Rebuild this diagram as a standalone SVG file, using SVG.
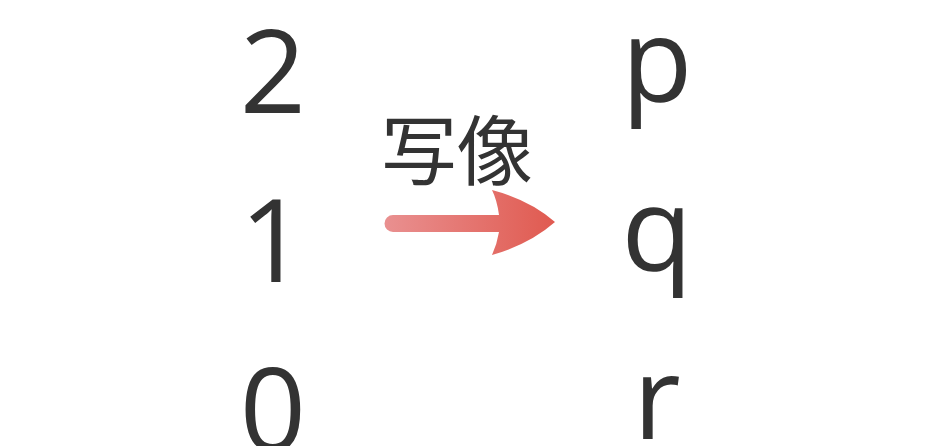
<svg xmlns="http://www.w3.org/2000/svg" width="940" height="446" viewBox="0 0 940 446">
  <defs>
    <style>
      .glyph { font-family: "Open Sans", "Noto Sans", sans-serif; font-size: 116px; fill: #333333; text-anchor: middle; }
      .label { font-family: "Noto Sans CJK JP", "Noto Sans", sans-serif; font-size: 76px; fill: #333333; text-anchor: middle; }
    </style>
    <linearGradient id="arrowGrad" x1="385" y1="0" x2="555" y2="0" gradientUnits="userSpaceOnUse">
      <stop offset="0" stop-color="#e99090"/>
      <stop offset="1" stop-color="#e05a50"/>
    </linearGradient>
  </defs>
  <rect width="940" height="446" fill="#ffffff"/>
  <g id="left-2"><text class="glyph" x="273" y="113">2</text></g>
  <g id="left-1"><text class="glyph" x="273" y="282">1</text></g>
  <g id="left-0"><text class="glyph" x="273" y="451">0</text></g>
  <g id="right-p"><text class="glyph" x="657" y="101">p</text></g>
  <g id="right-q"><text class="glyph" x="657" y="270">q</text></g>
  <g id="right-r"><text class="glyph" x="657" y="439">r</text></g>
  <g id="connectors">
    <path fill="url(#arrowGrad)" d="M393,215 L499,215 Q497,200 492,190 Q530,200 555,222 Q530,244 492,255 Q497,244 499,232 L393,232 A8.5,8.5 0 0 1 393,215 Z"/>
    <text class="label" x="457" y="179">写像</text>
  </g>
</svg>
